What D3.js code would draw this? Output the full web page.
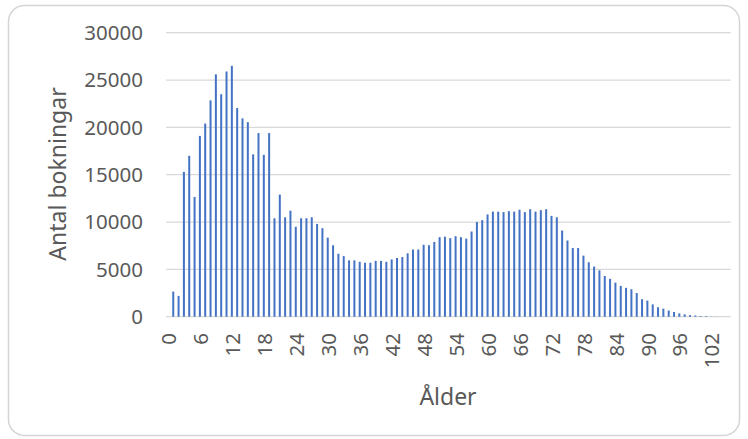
<!DOCTYPE html>
<html>
<head>
<meta charset="utf-8">
<script src="https://cdn.jsdelivr.net/npm/d3@7"></script>
<style>
  body { margin: 0; background: #fff; }
  text { font-family: "Noto Sans", sans-serif; fill: #595959; }
</style>
</head>
<body>
<svg id="chart" width="748" height="439"></svg>
<script>
// Age categories on the x axis
const ages = [
  0, 1, 2, 3, 4, 5, 6, 7, 8, 9, 10, 11, 12, 13, 14, 15, 16, 17, 18, 19,
  20, 21, 22, 23, 24, 25, 26, 27, 28, 29, 30, 31, 32, 33, 34, 35, 36, 37, 38, 39,
  40, 41, 42, 43, 44, 45, 46, 47, 48, 49, 50, 51, 52, 53, 54, 55, 56, 57, 58, 59,
  60, 61, 62, 63, 64, 65, 66, 67, 68, 69, 70, 71, 72, 73, 74, 75, 76, 77, 78, 79,
  80, 81, 82, 83, 84, 85, 86, 87, 88, 89, 90, 91, 92, 93, 94, 95, 96, 97, 98, 99,
  100, 101, 102, 103, 104, 105
];

// Number of bookings per age (ages 0..104)
const bookings = [
  2650, 2200, 15300, 17000, 12650, 19100, 20400, 22850, 25600, 23500,
  25900, 26500, 22050, 20950, 20550, 17150, 19400, 17100, 19400, 10400,
  12900, 10500, 11200, 9500, 10400, 10400, 10500, 9800, 9350, 8350,
  7550, 6650, 6400, 5950, 5950, 5800, 5700, 5700, 5900, 5900,
  5800, 6050, 6200, 6300, 6700, 7100, 7100, 7600, 7550, 7900,
  8400, 8450, 8300, 8500, 8400, 8250, 9000, 10000, 10200, 10800,
  11100, 11100, 11050, 11150, 11100, 11300, 11050, 11350, 11100, 11250,
  11350, 10650, 10500, 9100, 8050, 7250, 7250, 6450, 5750, 5300,
  4900, 4300, 4000, 3600, 3250, 3050, 2900, 2500, 1850, 1700,
  1300, 1000, 850, 650, 500, 350, 250, 170, 130, 70,
  60, 25, 15, 10, 5
];

const yTicks = [0, 5000, 10000, 15000, 20000, 25000, 30000];
const xTickAges = [0, 6, 12, 18, 24, 30, 36, 42, 48, 54, 60, 66, 72, 78, 84, 90, 96, 102];

const yTitle = "Antal bokningar";
const xTitle = "Ålder";

const svg = d3.select("#chart");

// Chart card
svg.append("rect")
  .attr("x", 8.5).attr("y", 5.5)
  .attr("width", 731).attr("height", 430)
  .attr("rx", 16).attr("ry", 16)
  .attr("fill", "#fff")
  .attr("stroke", "#d4d4d4")
  .attr("stroke-width", 1.5);

const plot = { left: 166, right: 730.7, top: 32.7, bottom: 316.7 };

const x = d3.scaleBand()
  .domain(ages)
  .range([plot.left, plot.right]);

const y = d3.scaleLinear()
  .domain([0, 30000])
  .range([plot.bottom, plot.top]);

// Horizontal gridlines
svg.append("g")
  .selectAll("line")
  .data(yTicks)
  .join("line")
  .attr("x1", plot.left).attr("x2", plot.right)
  .attr("y1", d => y(d)).attr("y2", d => y(d))
  .attr("stroke", "#d9d9d9")
  .attr("stroke-width", 1.3);

// Y tick labels
svg.append("g")
  .selectAll("text")
  .data(yTicks)
  .join("text")
  .attr("x", 143)
  .attr("y", d => y(d))
  .attr("dy", "0.36em")
  .attr("text-anchor", "end")
  .style("font-size", "20.5px")
  .text(d => d);

// Bars sit slightly right of each category's centre
const barWidth = 2;
const barShift = x.bandwidth() * 0.86;
svg.append("g")
  .selectAll("rect")
  .data(bookings.map((v, i) => ({ age: ages[i], value: v })))
  .join("rect")
  .attr("x", d => x(d.age) + x.bandwidth() / 2 + barShift - barWidth / 2)
  .attr("y", d => y(d.value))
  .attr("width", barWidth)
  .attr("height", d => y(0) - y(d.value))
  .attr("fill", "#4472c4");

// X tick labels, rotated
svg.append("g")
  .selectAll("text")
  .data(xTickAges)
  .join("text")
  .attr("transform", d => `translate(${x(d) + x.bandwidth() / 2},333) rotate(-90)`)
  .attr("dy", "0.36em")
  .attr("text-anchor", "end")
  .style("font-size", "20.5px")
  .text(d => d);

// Axis titles
svg.append("text")
  .attr("transform", "translate(58,174) rotate(-90)")
  .attr("dy", "0.36em")
  .attr("text-anchor", "middle")
  .style("font-size", "23px")
  .text(yTitle);

svg.append("text")
  .attr("x", 448)
  .attr("y", 397)
  .attr("dy", "0.36em")
  .attr("text-anchor", "middle")
  .style("font-size", "23px")
  .text(xTitle);
</script>
</body>
</html>
